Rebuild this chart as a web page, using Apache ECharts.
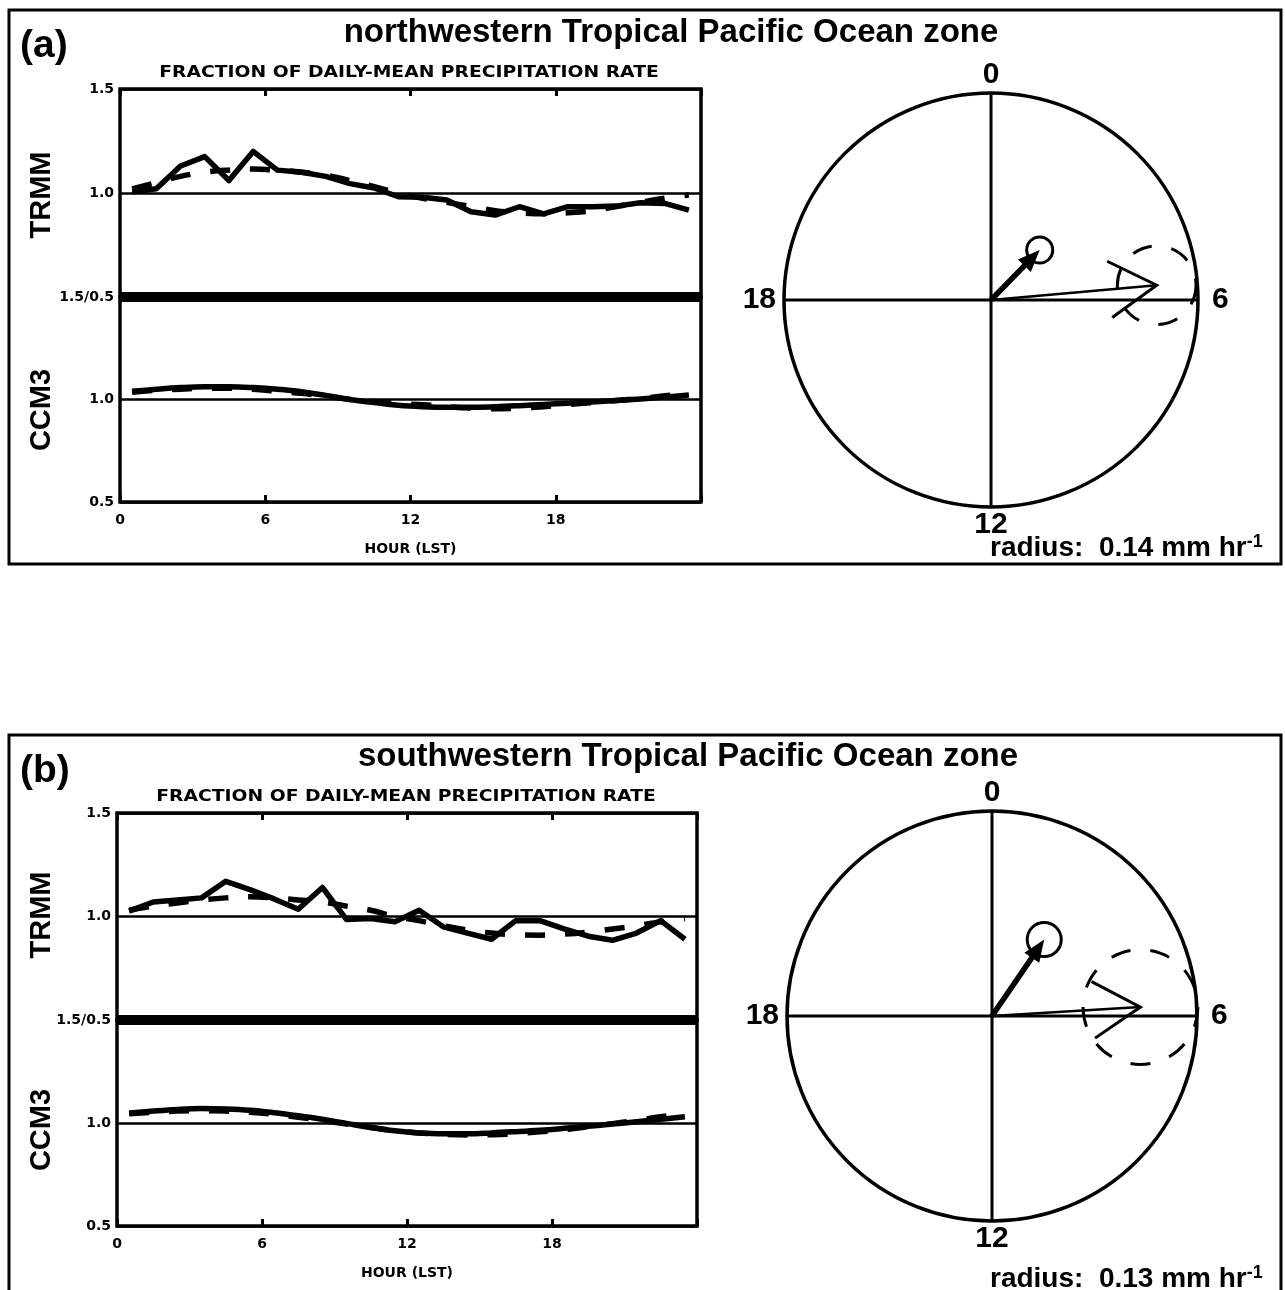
<!DOCTYPE html>
<html>
<head>
<meta charset="utf-8">
<title>Diurnal cycle of precipitation - Tropical Pacific</title>
<script src="https://cdn.jsdelivr.net/npm/echarts@6/dist/echarts.min.js"></script>
<style>
  html, body { margin: 0; padding: 0; background: #fff; }
  #chart { width: 1285px; height: 1290px; }
</style>
</head>
<body>
<div id="chart"></div>
<script>
// hourly bins (LST)
const hours = [0.5, 1.5, 2.5, 3.5, 4.5, 5.5, 6.5, 7.5, 8.5, 9.5, 10.5, 11.5,
  12.5, 13.5, 14.5, 15.5, 16.5, 17.5, 18.5, 19.5, 20.5, 21.5, 22.5, 23.5];

// (a) northwestern Tropical Pacific: fraction of daily mean (solid = data, dashed = harmonic fit)
const trmmObsA = [1.006, 1.02, 1.13, 1.175, 1.06, 1.2, 1.11, 1.1, 1.08, 1.045, 1.024, 0.982,
  0.98, 0.966, 0.91, 0.894, 0.934, 0.9, 0.934, 0.934, 0.937, 0.953, 0.95, 0.918];
const trmmFitA = [1.02, 1.05, 1.08, 1.1, 1.11, 1.115, 1.11, 1.1, 1.085, 1.06, 1.03, 1.0,
  0.975, 0.955, 0.935, 0.915, 0.905, 0.9, 0.905, 0.915, 0.935, 0.955, 0.975, 0.99];
const ccmObsA = [1.04, 1.05, 1.058, 1.062, 1.062, 1.058, 1.05, 1.038, 1.02, 1.0, 0.985, 0.972,
  0.965, 0.962, 0.962, 0.965, 0.97, 0.976, 0.982, 0.988, 0.995, 1.003, 1.012, 1.022];
const ccmFitA = [1.035, 1.045, 1.05, 1.055, 1.055, 1.05, 1.04, 1.03, 1.015, 1.0, 0.99, 0.98,
  0.975, 0.965, 0.958, 0.955, 0.958, 0.965, 0.975, 0.985, 0.995, 1.005, 1.018, 1.03];

// (b) southwestern Tropical Pacific
const trmmObsB = [1.026, 1.07, 1.08, 1.09, 1.17, 1.13, 1.085, 1.035, 1.14, 0.985, 0.99, 0.975,
  1.03, 0.95, 0.92, 0.89, 0.98, 0.98, 0.94, 0.905, 0.885, 0.92, 0.98, 0.89];
const trmmFitB = [1.03, 1.05, 1.065, 1.08, 1.09, 1.095, 1.09, 1.08, 1.07, 1.05, 1.03, 1.0,
  0.98, 0.955, 0.935, 0.92, 0.912, 0.91, 0.915, 0.925, 0.94, 0.955, 0.975, 0.99];
const ccmObsB = [1.048, 1.058, 1.066, 1.07, 1.068, 1.062, 1.05, 1.035, 1.018, 0.998, 0.978, 0.962,
  0.952, 0.948, 0.948, 0.952, 0.958, 0.965, 0.974, 0.984, 0.995, 1.006, 1.018, 1.03];
const ccmFitB = [1.045, 1.052, 1.058, 1.06, 1.058, 1.052, 1.042, 1.028, 1.012, 0.995, 0.978, 0.963,
  0.952, 0.945, 0.942, 0.943, 0.948, 0.957, 0.968, 0.982, 0.997, 1.013, 1.03, 1.045];

// diurnal harmonic vectors [TRMM, CCM3]: amplitude (mm/hr), phase (hour), uncertainty radius (mm/hr)
const ampA = [0.1125, 0.0472];
const phaseA = [5.66, 2.95];
const errA = [0.0266, 0.0088];
const ampB = [0.0943, 0.0587];
const phaseB = [5.77, 2.29];
const errB = [0.0364, 0.0108];
const dialMax = [0.14, 0.13];

const hourTicks = [0, 6, 12, 18];
const titles = ['northwestern Tropical Pacific Ocean zone', 'southwestern Tropical Pacific Ocean zone'];
const tags = ['(a)', '(b)'];

const BLACK = '#000';
const HELV = 'Liberation Sans, Arial, sans-serif';
const NCAR = 'DejaVu Sans, sans-serif';

// page layout of the two panels
const layout = [
  { box: 10, left: 120, width: 581, top: 89, mid: 297, bottom: 502, cx: 991, cy: 300, r: 207,
    title: [671, 33], tag: [20, 46], frac: [409, 73], trmm: 195, ccm: 410, radius: [990, 548] },
  { box: 735, left: 117, width: 580, top: 813, mid: 1020, bottom: 1226, cx: 992, cy: 1016, r: 205,
    title: [688, 757], tag: [20, 771], frac: [406, 797], trmm: 915, ccm: 1130, radius: [990, 1279] }
];

const pair = (vals) => hours.map((h, i) => [h, vals[i]]);

const chart = echarts.init(document.getElementById('chart'), null, { renderer: 'canvas' });

const grids = [], xAxes = [], yAxes = [], series = [], polars = [], angleAxes = [], radiusAxes = [], graphics = [];

const lineSeries = (gi, vals, dashed, smooth, extra) => Object.assign({
  type: 'line',
  xAxisIndex: gi,
  yAxisIndex: gi,
  data: pair(vals),
  showSymbol: false,
  smooth: smooth,
  silent: true,
  lineStyle: { color: BLACK, width: 5.5, type: dashed ? [20, 20] : 'solid', cap: 'butt', join: 'round' }
}, extra || {});

// draws the harmonic vectors inside a polar dial
function renderVector(params, api) {
  const amp = api.value(0), ph = api.value(1), err = api.value(2), kind = api.value(3);
  const o = api.coord([0, 0]);
  const t = api.coord([amp, ph]);
  const e = api.coord([err, 0]);
  const rr = Math.hypot(e[0] - o[0], e[1] - o[1]);
  const ang = Math.atan2(t[1] - o[1], t[0] - o[0]);
  const ux = Math.cos(ang), uy = Math.sin(ang);
  const stroke = { stroke: BLACK, fill: null };
  if (kind === 0) {
    const L = 55, w = 0.54;
    const w1 = [t[0] + L * Math.cos(ang + Math.PI - w), t[1] + L * Math.sin(ang + Math.PI - w)];
    const w2 = [t[0] + L * Math.cos(ang + Math.PI + w), t[1] + L * Math.sin(ang + Math.PI + w)];
    return {
      type: 'group',
      children: [
        { type: 'line', shape: { x1: o[0], y1: o[1], x2: t[0], y2: t[1] }, style: Object.assign({ lineWidth: 2.5 }, stroke) },
        { type: 'polyline', shape: { points: [w1, t, w2] }, style: Object.assign({ lineWidth: 3 }, stroke) },
        { type: 'circle', shape: { cx: t[0], cy: t[1], r: rr }, style: Object.assign({ lineWidth: 3, lineDash: [20, 20] }, stroke) }
      ]
    };
  }
  const hl = 22, hw = 9;
  const base = [t[0] - hl * ux, t[1] - hl * uy];
  return {
    type: 'group',
    children: [
      { type: 'line', shape: { x1: o[0], y1: o[1], x2: base[0] + 2 * ux, y2: base[1] + 2 * uy }, style: Object.assign({ lineWidth: 5.5 }, stroke) },
      { type: 'polygon', shape: { points: [t, [base[0] - hw * uy, base[1] + hw * ux], [base[0] + hw * uy, base[1] - hw * ux]] }, style: { fill: BLACK } },
      { type: 'circle', shape: { cx: t[0], cy: t[1], r: rr }, style: Object.assign({ lineWidth: 3 }, stroke) }
    ]
  };
}

const panelData = [
  { trmmObs: trmmObsA, trmmFit: trmmFitA, ccmObs: ccmObsA, ccmFit: ccmFitA, amp: ampA, phase: phaseA, err: errA },
  { trmmObs: trmmObsB, trmmFit: trmmFitB, ccmObs: ccmObsB, ccmFit: ccmFitB, amp: ampB, phase: phaseB, err: errB }
];

// dial hour labels: a little extra room on the east/west sides
const dialFont = { fontFamily: HELV, fontWeight: 'bold', fontSize: 30, color: BLACK };
const dialRich = {
  n: Object.assign({}, dialFont),
  e: Object.assign({ padding: [0, 0, 0, 11] }, dialFont),
  w: Object.assign({ padding: [0, 5, 0, 0] }, dialFont)
};
const dialLabel = (v) => {
  if (hourTicks.indexOf(v) < 0) return '';
  if (v === 6) return '{e|6}';
  if (v === 18) return '{w|18}';
  return '{n|' + v + '}';
};

layout.forEach((L, p) => {
  const d = panelData[p];
  const gTop = p * 2, gBot = p * 2 + 1;

  // TRMM (upper) and CCM3 (lower) plot boxes
  [[L.top, L.mid], [L.mid, L.bottom]].forEach(([t0, t1]) => {
    grids.push({
      left: L.left, top: t0, width: L.width, height: t1 - t0,
      show: true, borderColor: BLACK, borderWidth: 3.5, backgroundColor: 'transparent',
      outerBoundsMode: 'none'
    });
  });

  const tickStyle = { show: true, inside: true, length: 7, lineStyle: { color: BLACK, width: 3 } };
  xAxes.push({
    gridIndex: gTop, type: 'value', min: 0, max: 24, interval: 6, position: 'top',
    axisLine: { show: false }, axisTick: tickStyle, axisLabel: { show: false }, splitLine: { show: false }
  });
  xAxes.push({
    gridIndex: gBot, type: 'value', min: 0, max: 24, interval: 6, position: 'bottom',
    axisLine: { show: false }, axisTick: tickStyle, splitLine: { show: false },
    axisLabel: {
      margin: 11, color: BLACK, fontFamily: NCAR, fontWeight: 'bold', fontSize: 14,
      formatter: (v) => (hourTicks.indexOf(v) >= 0 ? String(v) : '')
    },
    name: 'HOUR (LST)', nameLocation: 'middle', nameGap: 40,
    nameTextStyle: { color: BLACK, fontFamily: NCAR, fontWeight: 'bold', fontSize: 14 }
  });

  const yBase = {
    type: 'value', min: 0.5, max: 1.5, interval: 0.5,
    axisLine: { show: false }, axisTick: { show: false },
    splitLine: { show: true, lineStyle: { color: BLACK, width: 2.5 } }
  };
  const yLabel = { margin: 6, color: BLACK, fontFamily: NCAR, fontWeight: 'bold', fontSize: 14 };
  yAxes.push(Object.assign({ gridIndex: gTop }, yBase, {
    axisLabel: Object.assign({ formatter: (v) => (v === 0.5 ? '1.5/0.5' : v.toFixed(1)) }, yLabel)
  }));
  yAxes.push(Object.assign({ gridIndex: gBot }, yBase, {
    axisLabel: Object.assign({ formatter: (v) => (v === 1.5 ? '' : v.toFixed(1)) }, yLabel)
  }));

  series.push(lineSeries(gTop, d.trmmFit, true, 0.4));
  series.push(lineSeries(gTop, d.trmmObs, false, false, {
    markLine: {
      silent: true, symbol: 'none', label: { show: false },
      lineStyle: { color: BLACK, width: 10, type: 'solid' },
      data: [{ yAxis: 0.5 }]
    }
  }));
  series.push(lineSeries(gBot, d.ccmFit, true, 0.4));
  series.push(lineSeries(gBot, d.ccmObs, false, 0.4));

  // harmonic dial
  polars.push({ center: [L.cx, L.cy], radius: L.r });
  angleAxes.push({
    polarIndex: p, type: 'value', min: 0, max: 24, interval: 6, startAngle: 90, clockwise: true,
    axisLine: { lineStyle: { color: BLACK, width: 3.5 } },
    axisTick: { show: false },
    splitLine: { show: true, lineStyle: { color: BLACK, width: 3 } },
    axisLabel: Object.assign({ margin: 3, formatter: dialLabel, rich: dialRich }, dialFont)
  });
  radiusAxes.push({ polarIndex: p, type: 'value', min: 0, max: dialMax[p], show: false });
  series.push({
    type: 'custom', coordinateSystem: 'polar', polarIndex: p, silent: true,
    encode: { radius: 0, angle: 1 },
    data: d.amp.map((a, i) => [a, d.phase[i], d.err[i], i]),
    renderItem: renderVector
  });

  // frame and texts
  graphics.push({
    type: 'rect', shape: { x: 9, y: L.box, width: 1272, height: p === 0 ? 554 : 600 },
    style: { fill: null, stroke: BLACK, lineWidth: 3 }, silent: true
  });
  graphics.push({
    type: 'text', x: L.tag[0], y: L.tag[1],
    style: { text: tags[p], font: 'bold 39px ' + HELV, fill: BLACK, align: 'left', verticalAlign: 'middle' }
  });
  graphics.push({
    type: 'text', x: L.title[0], y: L.title[1],
    style: { text: titles[p], font: 'bold 33px ' + HELV, fill: BLACK, align: 'center', verticalAlign: 'middle' }
  });
  graphics.push({
    type: 'text', x: L.frac[0], y: L.frac[1], scaleX: 1.25,
    style: { text: 'FRACTION OF DAILY-MEAN PRECIPITATION RATE', font: 'bold 15px ' + NCAR, fill: BLACK, align: 'center', verticalAlign: 'middle' }
  });
  [['TRMM', L.trmm], ['CCM3', L.ccm]].forEach(([txt, y]) => {
    graphics.push({
      type: 'text', x: 42, y: y, rotation: Math.PI / 2,
      style: { text: txt, font: 'bold 29px ' + HELV, fill: BLACK, align: 'center', verticalAlign: 'middle' }
    });
  });
  graphics.push({
    type: 'text', x: L.radius[0], y: L.radius[1],
    style: {
      text: '{m|radius:  ' + dialMax[p].toFixed(2) + ' mm hr}{s|-1}',
      align: 'left', verticalAlign: 'middle',
      rich: {
        m: { font: 'bold 28px ' + HELV, fill: BLACK, lineHeight: 30 },
        s: { font: 'bold 18px ' + HELV, fill: BLACK, verticalAlign: 'top', lineHeight: 30 }
      }
    }
  });
});

chart.setOption({
  backgroundColor: '#fff',
  animation: false,
  textStyle: { fontFamily: HELV, color: BLACK },
  grid: grids,
  xAxis: xAxes,
  yAxis: yAxes,
  polar: polars,
  angleAxis: angleAxes,
  radiusAxis: radiusAxes,
  series: series,
  graphic: graphics
});
</script>
</body>
</html>
